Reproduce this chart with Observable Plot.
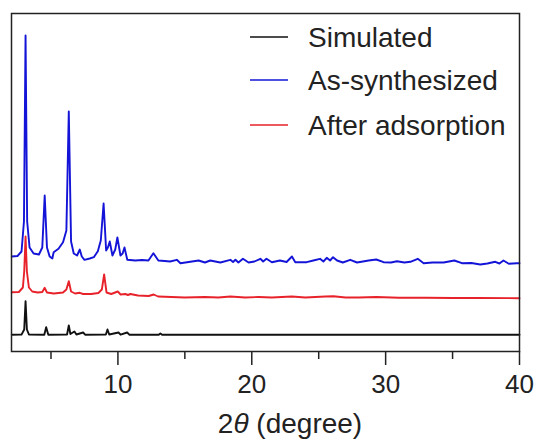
<!DOCTYPE html>
<html><head><meta charset="utf-8">
<script src="https://cdn.jsdelivr.net/npm/d3@7"></script>
<script src="https://cdn.jsdelivr.net/npm/@observablehq/plot@0.6"></script>
<style>body{margin:0;background:#fff}</style>
</head><body><div id="chart"></div>
<script>
const seriesNames = ["Simulated", "As-synthesized", "After adsorption"];
const seriesColors = ["#111111", "#1414d8", "#e8222a"];

const simX = [2.07,2.8,3.0,3.1,3.2,3.35,4.5,4.64,4.8,6.2,6.33,6.45,6.75,6.9,7.4,7.55,9.1,9.22,9.35,10.04,10.2,10.69,10.85,13.05,13.17,13.3,40];
const simY = [16.7,16.9,22,50.3,22,17,16.8,24.3,16.8,17,26,17.5,20,17,19,16.8,17,22,17,19,16.8,19,16.8,16.7,18,16.7,16.7];

const asX = [2.07,2.5,2.8,2.98,3.1,3.22,3.4,3.7,4.1,4.35,4.53,4.7,4.9,5.1,5.2,5.56,5.9,6.15,6.33,6.5,6.7,6.95,7.15,7.3,7.5,7.9,8.2,8.5,8.72,8.93,9.12,9.25,9.39,9.59,9.8,9.96,10.19,10.35,10.49,10.7,11.3,11.8,12.28,12.65,13.02,13.5,13.9,14.4,14.67,16.03,16.5,16.9,17.65,18.4,18.6,18.78,19.0,19.34,19.76,20.2,20.64,20.85,21.1,21.5,22.1,22.6,23.0,23.25,24.1,24.6,25.1,25.35,25.6,25.85,26.07,26.37,26.8,27.36,27.86,28.3,28.73,29.3,29.85,30.4,30.85,31.4,31.85,32.4,32.84,33.5,34.33,35.13,35.7,36.4,37.07,37.6,38.19,38.5,38.8,39.2,39.8,40];
const asY = [95,95.5,100,130,316,130,104,98,97,104,156,104,95,93,99.3,102.7,109.3,121,240,110,98,96,102,95,91.7,93,94.3,100.3,111,148,101,104,110,96,102,114,96,98,104,91.7,91,91.5,91,98.3,91,90.5,90,91.7,88.3,91,89,91,89,91.7,89.5,91.7,89,92.7,89,90,92.7,90,92.7,89.3,91,89.5,95,89.3,89.3,91,92.7,90,93.7,91,94.3,91,89,91.7,89,90,91,92,89.3,89,90.3,89,89.7,92.7,88.3,89,89,91,88.3,88.5,87,88,89.7,88,91,87.7,88.3,88.3];

const adX = [2.07,2.6,2.9,3.0,3.1,3.2,3.35,3.6,4.0,4.35,4.53,4.7,5.2,5.56,5.9,6.15,6.33,6.5,6.8,7.15,7.4,8.0,8.54,8.8,8.97,9.15,9.5,9.99,10.2,10.56,10.75,10.93,11.5,12.3,12.67,13.0,14,15,16.5,17.5,18.4,19.5,20.5,21.5,23.0,24,25.5,26.1,27,28,29.3,31,33,35,37,40];
const adY = [59.3,59.5,64,80,115,80,64,60,59,59.5,63.7,59,58,58.5,59,62,70.3,60,58,58.7,57.5,57.5,58.5,62,77,59,57.5,60,57,57.5,56.5,57.5,56,55.5,57,55,54.5,54,54.5,54,55,54,54.5,54,55,54,55,55.3,54,54,54.5,53.8,53.7,53.5,53.5,53.3];

const majorTicks = [10, 20, 30, 40];
const minorTicks = [5, 15, 25, 35];

const rows = [];
[[simX, simY], [asX, asY], [adX, adY]].forEach(([xs, ys], i) => {
  xs.forEach((x, j) => rows.push({x, y: ys[j], series: seriesNames[i]}));
});

const font = "'Liberation Sans', Arial, sans-serif";
const W = 535, H = 439;
const chart = Plot.plot({
  width: W, height: H,
  marginLeft: 11, marginRight: 16, marginTop: 13, marginBottom: 88,
  style: {fontFamily: font, background: "#fff", color: "#222"},
  x: {domain: [2.05, 40]},
  y: {domain: [0, 338], axis: null},
  color: {domain: seriesNames, range: seriesColors},
  marks: [
    Plot.line(rows, {x: "x", y: "y", z: "series", stroke: "series", strokeWidth: 1.9}),
    Plot.frame({stroke: "#222", strokeWidth: 1.5}),
    Plot.axisX({ticks: majorTicks, tickSize: 14, tickPadding: 9, fontSize: 26, label: null, strokeWidth: 1.5}),
    Plot.axisX({ticks: minorTicks, tickSize: 8, tickFormat: () => "", label: null, strokeWidth: 1.5})
  ]
});
document.getElementById("chart").appendChild(chart);

const svg = d3.select(chart);
const lab = svg.append("text").attr("x", 290).attr("y", 433).attr("text-anchor", "middle")
  .attr("font-family", font).attr("font-size", 28).attr("fill", "#222");
lab.append("tspan").text("2");
lab.append("tspan").attr("font-style", "italic").text("θ");
lab.append("tspan").text(" (degree)");

const legendY = [37, 80, 125];
seriesNames.forEach((name, i) => {
  svg.append("line").attr("x1", 250).attr("x2", 288).attr("y1", legendY[i]).attr("y2", legendY[i])
    .attr("stroke", seriesColors[i]).attr("stroke-width", 1.6);
  svg.append("text").attr("x", 308).attr("y", legendY[i]).attr("dy", "0.35em")
    .attr("text-anchor", "start")
    .attr("font-family", font).attr("font-size", 28).attr("fill", "#222").text(name);
});
</script></body></html>
